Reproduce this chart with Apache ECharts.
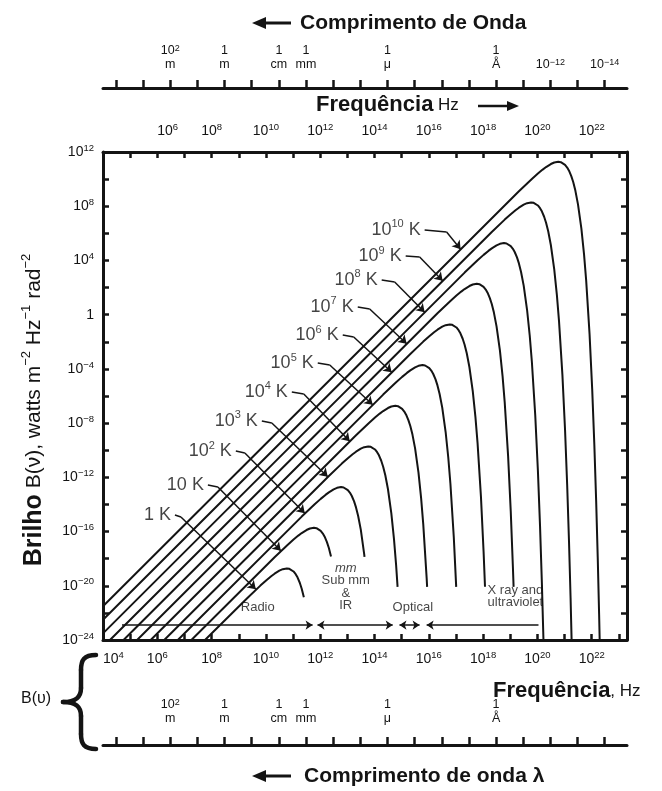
<!DOCTYPE html>
<html>
<head>
<meta charset="utf-8">
<title>Brilho B(ν) de corpo negro</title>
<script src="https://cdn.jsdelivr.net/npm/echarts@6.0.0/dist/echarts.min.js"></script>
<style>
  html, body { margin: 0; padding: 0; background: #fff; }
  #chart { width: 662px; height: 791px; }
</style>
</head>
<body>
<div id="chart"></div>
<script>
// x = log10(frequência em Hz), y = log10(brilho B(ν))
var freqTicks = [4, 5, 6, 7, 8, 9, 10, 11, 12, 13, 14, 15, 16, 17, 18, 19, 20, 21, 22, 23];
var freqLabels = [4, 6, 8, 10, 12, 14, 16, 18, 20, 22];
var freqLabelsTop = [6, 8, 10, 12, 14, 16, 18, 20, 22];
var brightTicks = [-24, -22, -20, -18, -16, -14, -12, -10, -8, -6, -4, -2, 0, 2, 4, 6, 8, 10, 12];
var brightLabels = [-24, -20, -16, -12, -8, -4, 0, 4, 8, 12];

// escala de comprimento de onda (posições em log10 da frequência)
var waveTicks = [4.477, 5.477, 6.477, 7.477, 8.477, 9.477, 10.477, 11.477, 12.477, 13.477,
  14.477, 15.477, 16.477, 17.477, 18.477, 19.477, 20.477, 21.477, 22.477];
var waveLabelPos = [6.477, 8.477, 10.477, 11.477, 14.477, 18.477, 20.477, 22.477];
var waveLabelText = ['10{s|2}\nm', '1\nm', '1\ncm', '1\nmm', '1\nμ', '1\nÅ', '10{s|−12}', '10{s|−14}'];
var waveLabelPosBottom = [6.477, 8.477, 10.477, 11.477, 14.477, 18.477];

// curvas de corpo negro
var curve1K = [[7.756,-24],[9.319,-20.896],[9.796,-19.987],[10.018,-19.589],[10.194,-19.297],[10.319,-19.109],[10.495,-18.888],[10.62,-18.776],[10.769,-18.721],[10.863,-18.749],[10.921,-18.797],[11.018,-18.946],[11.097,-19.144],[11.164,-19.378],[11.248,-19.777],[11.319,-20.217],[11.398,-20.848]];
var curve10K = [[7.256,-24],[10.319,-17.896],[10.796,-16.987],[11.018,-16.589],[11.194,-16.297],[11.319,-16.109],[11.495,-15.888],[11.62,-15.776],[11.769,-15.721],[11.863,-15.749],[11.921,-15.797],[12.018,-15.946],[12.097,-16.144],[12.164,-16.378],[12.248,-16.777],[12.319,-17.217],[12.398,-17.848]];
var curve1e2K = [[6.756,-24],[11.319,-14.896],[11.796,-13.987],[12.018,-13.589],[12.194,-13.297],[12.319,-13.109],[12.495,-12.888],[12.62,-12.776],[12.769,-12.721],[12.863,-12.749],[12.921,-12.797],[13.018,-12.946],[13.097,-13.144],[13.164,-13.378],[13.248,-13.777],[13.319,-14.217],[13.398,-14.848],[13.495,-15.86],[13.62,-17.657],[13.632,-17.87]];
var curve1e3K = [[6.256,-24],[12.319,-11.896],[12.796,-10.987],[13.018,-10.589],[13.194,-10.297],[13.319,-10.109],[13.495,-9.888],[13.62,-9.776],[13.769,-9.721],[13.863,-9.749],[13.921,-9.797],[14.018,-9.946],[14.097,-10.144],[14.164,-10.378],[14.248,-10.777],[14.319,-11.217],[14.398,-11.848],[14.495,-12.86],[14.62,-14.657],[14.717,-16.537],[14.796,-18.472],[14.85,-20.08]];
var curve1e4K = [[5.756,-24],[13.319,-8.896],[13.796,-7.987],[14.018,-7.589],[14.194,-7.297],[14.319,-7.109],[14.495,-6.888],[14.62,-6.776],[14.769,-6.721],[14.863,-6.749],[14.921,-6.797],[15.018,-6.946],[15.097,-7.144],[15.164,-7.378],[15.248,-7.777],[15.319,-8.217],[15.398,-8.848],[15.495,-9.86],[15.62,-11.657],[15.717,-13.537],[15.796,-15.472],[15.921,-19.44],[15.938,-20.08]];
var curve1e5K = [[5.256,-24],[14.319,-5.896],[14.796,-4.987],[15.018,-4.589],[15.194,-4.297],[15.319,-4.109],[15.495,-3.888],[15.62,-3.776],[15.769,-3.721],[15.863,-3.749],[15.921,-3.797],[16.018,-3.946],[16.097,-4.144],[16.164,-4.378],[16.248,-4.777],[16.319,-5.217],[16.398,-5.848],[16.495,-6.86],[16.62,-8.657],[16.717,-10.537],[16.796,-12.472],[16.921,-16.44],[17.009,-20.08]];
var curve1e6K = [[4.756,-24],[15.319,-2.896],[15.796,-1.987],[16.018,-1.589],[16.194,-1.297],[16.319,-1.109],[16.495,-0.888],[16.62,-0.776],[16.769,-0.721],[16.863,-0.749],[16.921,-0.797],[17.018,-0.946],[17.097,-1.144],[17.164,-1.378],[17.248,-1.777],[17.319,-2.217],[17.398,-2.848],[17.495,-3.86],[17.62,-5.657],[17.717,-7.537],[17.796,-9.472],[17.921,-13.44],[18.018,-17.492],[18.07,-20.07]];
var curve1e7K = [[4.256,-24],[16.319,0.104],[16.796,1.013],[17.018,1.411],[17.194,1.703],[17.319,1.891],[17.495,2.112],[17.62,2.224],[17.769,2.279],[17.863,2.251],[17.921,2.203],[18.018,2.054],[18.097,1.856],[18.164,1.622],[18.248,1.223],[18.319,0.783],[18.398,0.152],[18.495,-0.86],[18.62,-2.657],[18.717,-4.537],[18.796,-6.472],[18.921,-10.44],[19.018,-14.492],[19.097,-18.597],[19.123,-20.08]];
var curve1e8K = [[4,-23.51],[17.319,3.104],[17.796,4.013],[18.018,4.411],[18.194,4.703],[18.319,4.891],[18.495,5.112],[18.62,5.224],[18.769,5.279],[18.863,5.251],[18.921,5.203],[19.018,5.054],[19.097,4.856],[19.164,4.622],[19.248,4.223],[19.319,3.783],[19.398,3.152],[19.495,2.14],[19.62,0.343],[19.717,-1.537],[19.796,-3.472],[19.921,-7.44],[20.018,-11.492],[20.097,-15.597],[20.164,-19.739],[20.222,-23.904],[20.273,-28.098]];
var curve1e9K = [[4,-22.51],[18.319,6.104],[18.796,7.013],[19.018,7.411],[19.194,7.703],[19.319,7.891],[19.495,8.112],[19.62,8.224],[19.769,8.279],[19.863,8.251],[19.921,8.203],[20.018,8.054],[20.097,7.856],[20.164,7.622],[20.248,7.223],[20.319,6.783],[20.398,6.152],[20.495,5.14],[20.62,3.343],[20.717,1.463],[20.796,-0.472],[20.921,-4.44],[21.018,-8.492],[21.097,-12.597],[21.164,-16.739],[21.222,-20.904],[21.273,-25.098]];
var curve1e10K = [[4,-21.51],[19.319,9.104],[19.796,10.013],[20.018,10.411],[20.194,10.703],[20.319,10.891],[20.495,11.112],[20.62,11.224],[20.769,11.279],[20.863,11.251],[20.921,11.203],[21.018,11.054],[21.097,10.856],[21.164,10.622],[21.248,10.223],[21.319,9.783],[21.398,9.152],[21.495,8.14],[21.62,6.343],[21.717,4.463],[21.796,2.528],[21.921,-1.44],[22.018,-5.492],[22.097,-9.597],[22.164,-13.739],[22.222,-17.904],[22.273,-22.098],[22.319,-26.304]];
var curves = [curve1K, curve10K, curve1e2K, curve1e3K, curve1e4K, curve1e5K, curve1e6K, curve1e7K, curve1e8K, curve1e9K, curve1e10K];

// rótulos de temperatura e setas indicadoras
var tempLabels = ['1 K', '10 K', '10{s|2} K', '10{s|3} K', '10{s|4} K', '10{s|5} K', '10{s|6} K', '10{s|7} K', '10{s|8} K', '10{s|9} K', '10{s|10} K'];
var leaderStart = [[6.649,-14.78],[7.863,-12.56],[8.893,-10.06],[9.85,-7.84],[10.954,-5.7],[11.91,-3.57],[12.83,-1.5],[13.382,0.57],[14.265,2.56],[15.148,4.33],[15.847,6.25]];
var leaderKnee = [[6.87,-14.93],[8.231,-12.71],[9.224,-10.2],[10.218,-7.99],[11.395,-5.85],[12.352,-3.71],[13.235,-1.65],[13.823,0.42],[14.743,2.41],[15.663,4.25],[16.656,6.1]];
var leaderEnd = [[9.629,-20.254],[10.549,-17.414],[11.432,-14.648],[12.278,-11.956],[13.088,-9.336],[13.934,-6.644],[14.633,-4.246],[15.185,-2.142],[15.847,0.182],[16.509,2.506],[17.171,4.83]];

// faixas do espectro
var bandNames = ['Radio', '{i|mm}\nSub mm\n&\nIR', 'Optical', 'X ray and\nultraviolet'];
var bandLabelAt = [[9.7,-21.56],[12.94,-20.09],[15.41,-21.56],[19.19,-20.8]];
var bandEdges = [[4.7,11.72],[11.9,14.67],[14.92,15.66],[15.92,20.04]];
var bandArrowY = -22.9;

var INK = '#141414';
var FONT = '"Liberation Sans", Arial, Helvetica, sans-serif';

function supText(v) { return String(v).replace('-', '−'); }
function expLabel(v) { return v === 0 ? '1' : '10{s|' + supText(v) + '}'; }
function waveLabel(v) {
    var i = waveLabelPos.indexOf(v);
    return i < 0 ? '' : waveLabelText[i];
}

var supRich = { s: { fontSize: 9.5, lineHeight: 11, verticalAlign: 'top', color: INK, fontFamily: FONT } };
var smallRich = { s: { fontSize: 9, lineHeight: 10, verticalAlign: 'top', color: INK, fontFamily: FONT } };

function freqAxis(pos, labels, margin) {
    return {
        type: 'value', min: 4, max: 23.3, interval: 1, position: pos,
        axisLine: { onZero: false, lineStyle: { color: INK, width: 3 } },
        axisTick: { inside: true, length: 6, customValues: freqTicks, lineStyle: { color: INK, width: 2.5 } },
        axisLabel: {
            customValues: labels, formatter: expLabel, margin: margin, alignMinLabel: 'left',
            color: INK, fontFamily: FONT, fontSize: 14, lineHeight: 18, rich: supRich
        },
        splitLine: { show: false }
    };
}

function waveAxis(pos, offset, labels, inside, margin) {
    return {
        type: 'value', min: 4, max: 23.3, position: pos, offset: offset,
        axisLine: { onZero: false, lineStyle: { color: INK, width: 3 } },
        axisTick: { inside: inside, length: 8, customValues: waveTicks, lineStyle: { color: INK, width: 2.5 } },
        axisLabel: {
            inside: inside, customValues: labels, formatter: waveLabel, margin: margin,
            color: INK, fontFamily: FONT, fontSize: 12.5, lineHeight: 14, rich: smallRich
        },
        splitLine: { show: false }
    };
}

function brightAxis(pos, showLabel) {
    return {
        type: 'value', min: -24, max: 12, interval: 2, position: pos,
        axisLine: { onZero: false, lineStyle: { color: INK, width: 3 } },
        axisTick: { inside: true, length: 6, customValues: brightTicks, lineStyle: { color: INK, width: 2.5 } },
        axisLabel: {
            show: showLabel, customValues: brightLabels, formatter: expLabel, margin: 9,
            color: INK, fontFamily: FONT, fontSize: 14, lineHeight: 18, rich: supRich
        },
        splitLine: { show: false }
    };
}

// segmentos das setas indicadoras (temperaturas) e das faixas espectrais
var markSegments = [];
leaderStart.forEach(function(p, i) {
    markSegments.push([{ coord: p }, { coord: leaderKnee[i] }]);
    markSegments.push([{ coord: leaderKnee[i] }, { coord: leaderEnd[i], symbol: 'arrow', symbolSize: 8 }]);
});
var bandSymbols = [['none', 'arrow'], ['arrow', 'arrow'], ['arrow', 'arrow'], ['arrow', 'none']];
bandEdges.forEach(function(e, i) {
    markSegments.push([
        { coord: [e[0], bandArrowY], symbol: bandSymbols[i][0], symbolSize: 7 },
        { coord: [e[1], bandArrowY], symbol: bandSymbols[i][1], symbolSize: 7 }
    ]);
});

var series = curves.map(function(pts, i) {
    return {
        type: 'line', name: tempLabels[i], data: pts,
        symbol: 'none', smooth: false, silent: true, z: 3,
        lineStyle: { color: INK, width: 2, join: 'round' }
    };
});

series.push({
    type: 'scatter', name: 'temps', data: leaderStart, symbolSize: 0, silent: true, z: 5,
    label: {
        show: true, position: 'left', distance: 4,
        formatter: function(p) { return tempLabels[p.dataIndex]; },
        color: INK, fontFamily: FONT, fontSize: 18, lineHeight: 22,
        rich: { s: { fontSize: 11, lineHeight: 13, verticalAlign: 'top', color: INK, fontFamily: FONT } }
    },
    markLine: {
        silent: true, symbol: ['none', 'none'], label: { show: false },
        lineStyle: { color: INK, width: 1.5, type: 'solid' },
        data: markSegments
    }
});

series.push({
    type: 'scatter', name: 'bands', data: bandLabelAt, symbolSize: 0, silent: true, z: 5,
    label: {
        show: true, position: 'inside',
        formatter: function(p) { return bandNames[p.dataIndex]; },
        color: INK, fontFamily: FONT, fontSize: 13, lineHeight: 12.5,
        rich: { i: { fontStyle: 'italic', fontSize: 13, lineHeight: 12.5, color: INK, fontFamily: FONT } }
    }
});

// chave "{" desenhada com curvas
var braceStyle = { stroke: INK, lineWidth: 4.5, lineCap: 'round', fill: 'none' };

var myChart = echarts.init(document.getElementById('chart'));

myChart.setOption({
    backgroundColor: '#fff',
    animation: false,
    textStyle: { fontFamily: FONT },
    grid: { left: 103, right: 35, top: 152, bottom: 151 },
    xAxis: [
        freqAxis('bottom', freqLabels, 10),
        freqAxis('top', freqLabelsTop, 12),
        waveAxis('top', 64, waveLabelPos, false, 16),
        waveAxis('bottom', 105, waveLabelPosBottom, true, 19)
    ],
    yAxis: [brightAxis('left', true), brightAxis('right', false)],
    graphic: [
        // título superior
        { type: 'line', silent: true, shape: { x1: 263, y1: 23, x2: 291, y2: 23 }, style: { stroke: INK, lineWidth: 3 } },
        { type: 'polygon', silent: true, shape: { points: [[252, 23], [266, 17], [266, 29]] }, style: { fill: INK } },
        { type: 'text', silent: true, x: 300, y: 23,
          style: { text: 'Comprimento de Onda', fontSize: 21, fontWeight: 'bold', fontFamily: FONT, fill: INK, align: 'left', verticalAlign: 'middle' } },
        { type: 'text', silent: true, x: 316, y: 105,
          style: { text: '{b|Frequência} {n|Hz}', fontSize: 17, fontFamily: FONT, fill: INK, align: 'left', verticalAlign: 'middle',
                   rich: { b: { fontSize: 22, fontWeight: 'bold', fontFamily: FONT, fill: INK }, n: { fontSize: 17, fontFamily: FONT, fill: INK } } } },
        { type: 'line', silent: true, shape: { x1: 478, y1: 106, x2: 509, y2: 106 }, style: { stroke: INK, lineWidth: 2.5 } },
        { type: 'polygon', silent: true, shape: { points: [[519, 106], [507, 101], [507, 111]] }, style: { fill: INK } },
        // título do eixo y
        { type: 'text', silent: true, x: 34, y: 410, rotation: Math.PI / 2,
          style: { text: '{b|Brilho} B(ν), watts m{s|−2} Hz{s|−1} rad{s|−2}', fontSize: 21, fontFamily: FONT, fill: INK,
                   align: 'center', verticalAlign: 'middle',
                   rich: { b: { fontSize: 25, fontWeight: 'bold', fontFamily: FONT, fill: INK, lineHeight: 28 },
                           s: { fontSize: 13, fontFamily: FONT, fill: INK, verticalAlign: 'top', lineHeight: 13 } } } },
        // parte inferior
        { type: 'text', silent: true, x: 493, y: 691,
          style: { text: '{b|Frequência}{n|, Hz}', fontFamily: FONT, fill: INK, align: 'left', verticalAlign: 'middle',
                   rich: { b: { fontSize: 22, fontWeight: 'bold', fontFamily: FONT, fill: INK }, n: { fontSize: 17, fontFamily: FONT, fill: INK } } } },
        { type: 'bezierCurve', silent: true, shape: { x1: 96, y1: 655, cpx1: 84, cpy1: 655, cpx2: 81, cpy2: 660, x2: 81, y2: 670 }, style: braceStyle },
        { type: 'line', silent: true, shape: { x1: 81, y1: 670, x2: 81, y2: 688 }, style: braceStyle },
        { type: 'bezierCurve', silent: true, shape: { x1: 81, y1: 688, cpx1: 81, cpy1: 697, cpx2: 76, cpy2: 702, x2: 63, y2: 702 }, style: braceStyle },
        { type: 'bezierCurve', silent: true, shape: { x1: 63, y1: 702, cpx1: 76, cpy1: 702, cpx2: 81, cpy2: 707, x2: 81, y2: 716 }, style: braceStyle },
        { type: 'line', silent: true, shape: { x1: 81, y1: 716, x2: 81, y2: 734 }, style: braceStyle },
        { type: 'bezierCurve', silent: true, shape: { x1: 81, y1: 734, cpx1: 81, cpy1: 744, cpx2: 84, cpy2: 749, x2: 96, y2: 749 }, style: braceStyle },
        { type: 'text', silent: true, x: 36, y: 699,
          style: { text: 'B(υ)', fontSize: 16, fontFamily: FONT, fill: INK, align: 'center', verticalAlign: 'middle' } },
        { type: 'line', silent: true, shape: { x1: 263, y1: 776, x2: 291, y2: 776 }, style: { stroke: INK, lineWidth: 3 } },
        { type: 'polygon', silent: true, shape: { points: [[252, 776], [266, 770], [266, 782]] }, style: { fill: INK } },
        { type: 'text', silent: true, x: 304, y: 776,
          style: { text: 'Comprimento de onda λ', fontSize: 21, fontWeight: 'bold', fontFamily: FONT, fill: INK, align: 'left', verticalAlign: 'middle' } }
    ],
    series: series
});

window.addEventListener('resize', function() {
    myChart.resize();
});
</script>
</body>
</html>
